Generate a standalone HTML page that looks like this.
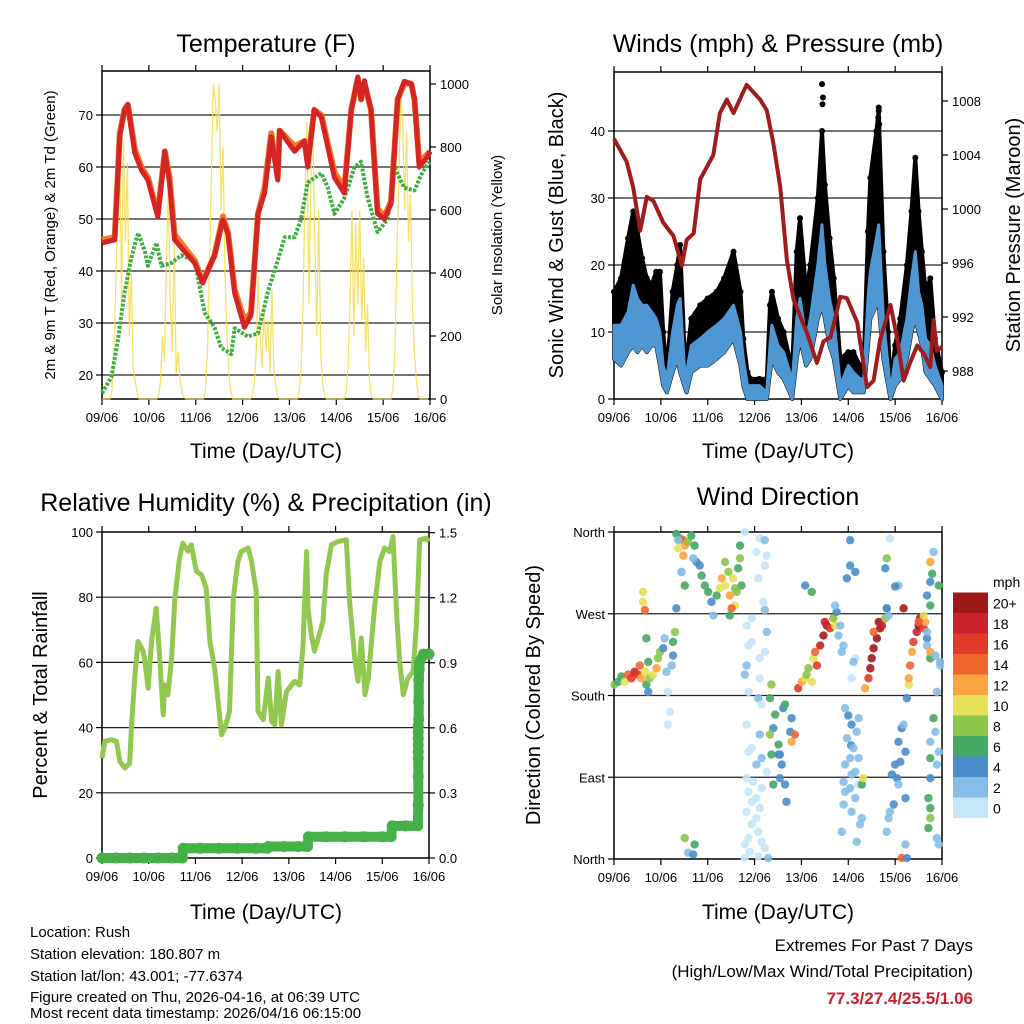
<!DOCTYPE html>
<html><head><meta charset="utf-8"><title>Station Meteogram</title>
<style>
html,body{margin:0;padding:0;background:#fff;}
svg{display:block;font-family:"Liberation Sans",sans-serif;}
</style></head>
<body>
<svg id="chart" width="1024" height="1024" viewBox="0 0 1024 1024" xmlns="http://www.w3.org/2000/svg">
<rect x="0" y="0" width="1024" height="1024" fill="#fff"/>
<text x="266" y="52" font-size="25" text-anchor="middle">Temperature (F)</text>
<text x="778" y="52" font-size="25" text-anchor="middle">Winds (mph) &amp; Pressure (mb)</text>
<text x="266" y="511" font-size="25" text-anchor="middle">Relative Humidity (%) &amp; Precipitation (in)</text>
<text x="778" y="505" font-size="25" text-anchor="middle">Wind Direction</text>
<text x="266" y="458" font-size="21" text-anchor="middle">Time (Day/UTC)</text>
<text x="778" y="458" font-size="21" text-anchor="middle">Time (Day/UTC)</text>
<text x="266" y="919" font-size="21" text-anchor="middle">Time (Day/UTC)</text>
<text x="778" y="919" font-size="21" text-anchor="middle">Time (Day/UTC)</text>
<text transform="translate(55,235) rotate(-90)" font-size="15" text-anchor="middle">2m &amp; 9m T (Red, Orange) &amp; 2m Td (Green)</text>
<text transform="translate(502,235) rotate(-90)" font-size="15" text-anchor="middle">Solar Insolation (Yellow)</text>
<text transform="translate(563,235) rotate(-90)" font-size="20" text-anchor="middle">Sonic Wind &amp; Gust (Blue, Black)</text>
<text transform="translate(1020,235) rotate(-90)" font-size="20" text-anchor="middle">Station Pressure (Maroon)</text>
<text transform="translate(47,695) rotate(-90)" font-size="20" text-anchor="middle">Percent &amp; Total Rainfall</text>
<text transform="translate(540,695) rotate(-90)" font-size="20" text-anchor="middle">Direction (Colored By Speed)</text>
<g font-size="15">
<text x="30" y="937">Location: Rush</text>
<text x="30" y="959">Station elevation: 180.807 m</text>
<text x="30" y="981">Station lat/lon: 43.001; -77.6374</text>
<text x="30" y="1002">Figure created on Thu, 2026-04-16, at 06:39 UTC</text>
<text x="30" y="1018" dy="0">Most recent data timestamp: 2026/04/16 06:15:00</text>
</g>
<text x="973" y="951" font-size="17" text-anchor="end">Extremes For Past 7 Days</text>
<text x="973" y="977" font-size="17" text-anchor="end">(High/Low/Max Wind/Total Precipitation)</text>
<text x="973" y="1004" font-size="17" font-weight="bold" fill="#c8202a" text-anchor="end">77.3/27.4/25.5/1.06</text>
<text x="993" y="587" font-size="14">mph</text>
</svg>
<script>
// ---------- data ----------
const dayLabels = ["09/06","10/06","11/06","12/06","13/06","14/06","15/06","16/06"];
const tempTicks = [20,30,40,50,60,70];
const solarTicks = [0,200,400,600,800,1000];
const windTicks = [0,10,20,30,40];
const pressTicks = [988,992,996,1000,1004,1008];
const rhTicks = [0,20,40,60,80,100];
const precipTicks = ["0.0","0.3","0.6","0.9","1.2","1.5"];
const dirTicks = ["North","East","South","West","North"];
const dirTickDeg = [0,90,180,270,360];
const speedBins = ["0","2","4","6","8","10","12","14","16","18","20+"];

const tempTime = [0,0.27,0.38,0.48,0.55,0.70,0.84,0.98,1.19,1.34,1.44,1.55,1.98,2.15,2.40,2.58,2.69,2.83,3.04,3.18,3.33,3.47,3.61,3.75,3.79,4.11,4.32,4.39,4.53,4.68,4.96,5.17,5.32,5.46,5.53,5.60,5.74,5.88,6.03,6.17,6.31,6.45,6.60,6.67,6.77,6.95,7.0];
const temp2m = [45.4,46,66,71,72,62.7,59.4,57.5,50.4,63,57,46,41.5,37.7,43,49.8,47,35.8,29.2,31.5,51,55,65.8,57.5,67,63,65,60,71,69.6,58,55,71,77.3,73,76.6,71,51,50,53,73,76.5,76,73,60,62,63];
const temp9m = [46,46.5,66.5,71,72,63.5,60,58,51,63,58,47,42,38,43,50.5,47.5,36.5,30.5,32,51,56,66.5,58,67,64,65,61,71,70,59,56,71,77,73,76,71,52,50.5,53.5,73,76,76,73,61,62.5,63];
const dewTime = [0,0.2,0.34,0.48,0.63,0.77,0.91,0.98,1.16,1.27,1.48,1.69,1.98,2.19,2.40,2.54,2.76,2.83,3.11,3.33,3.54,3.75,3.90,4.11,4.25,4.39,4.68,4.82,4.96,5.17,5.39,5.53,5.67,5.88,6.10,6.24,6.45,6.67,6.81,6.98];
const dewpt = [16.5,19.6,26.7,35.8,42.7,47.3,44,41,45.4,41,41.5,43,42,32,29.2,25.3,24,29,27.4,28,36,42,46.5,46.5,50,57,58.8,56,51,54,60,61,54,47.5,50,60,56,55.5,58.5,61];
const solarD0 = [0,0,0,0,0,20,120,350,600,880,300,820,500,750,200,400,100,60,20,0,0,0,0,0];
const solarD1 = [0,0,0,0,0,10,60,200,120,450,650,300,150,500,80,150,60,20,5,0,0,0,0,0];
const solarD2 = [0,0,0,0,0,30,150,400,700,1000,950,850,1000,600,800,400,200,80,20,0,0,0,0,0];
const solarD3 = [0,0,0,0,0,10,50,150,390,200,100,300,150,250,80,350,100,40,10,0,0,0,0,0];
const solarD4 = [0,0,0,0,0,20,100,300,650,880,300,700,880,500,200,600,150,50,10,0,0,0,0,0];
const solarD5 = [0,0,0,0,0,20,100,300,600,200,560,300,600,250,450,150,300,60,10,0,0,0,0,0];
const solarD6 = [0,0,0,0,0,30,150,450,700,960,880,600,850,500,650,300,150,60,10,0,0,0,0,0];

const windTime = [0,0.15,0.3,0.41,0.5,0.6,0.7,0.8,0.9,0.98,1.05,1.13,1.25,1.35,1.41,1.5,1.55,1.65,1.84,2.0,2.19,2.35,2.55,2.7,2.76,2.85,2.91,3.1,3.26,3.33,3.37,3.5,3.62,3.75,3.8,3.9,3.97,4.1,4.19,4.35,4.44,4.5,4.6,4.69,4.83,5.0,5.11,5.25,5.33,5.42,5.47,5.6,5.65,5.75,5.85,5.9,6.0,6.11,6.25,6.35,6.43,6.5,6.57,6.65,6.75,6.85,7.0];
const windLo = [6,5,7,8,7,8,7,8,8,5,2,1,4,6,4,2,1,4,5,5,6,7,9,5,2,0,0,0,0,4,6,4,3,1,0,6,9,5,6,12,14,12,8,6,0,2,1,1,1,8,12,14,14,6,2,0,2,3,6,10,12,10,8,4,3,2,0];
const windHi = [11,11,13,17,15,14,14,13,12,10,5,3,10,14,15,5,4,8,9,10,11,12,14,10,6,2,2,2,1,8,11,8,7,4,2,12,15,9,12,20,26,20,15,12,2,5,4,3,3,15,19,24,26,12,5,1,6,7,12,18,22,16,14,9,8,5,2];
const gust = [16,18,24,28,25,21,18,17,19,19,10,4,16,20,23,8,6,12,14,15,16,18,22,16,9,4,3,3,3,14,16,12,10,6,4,22,27,16,20,30,40,32,24,18,6,7,7,5,5,25,33,40,43,22,10,2,8,12,20,28,36,28,22,16,18,9,4];
const gustPeakTime = [4.44,4.45,4.46,5.64,5.65,5.66];
const gustPeakVal = [47,44,45,42,43.5,41];
const pressTime = [0,0.27,0.41,0.56,0.7,0.84,1.05,1.27,1.45,1.55,1.7,1.84,2.12,2.26,2.41,2.55,2.83,3.12,3.26,3.4,3.55,3.69,3.83,4.12,4.33,4.47,4.62,4.83,4.97,5.19,5.4,5.54,5.68,5.9,6.04,6.18,6.32,6.47,6.61,6.75,6.82,6.89,7.0];
const pressure = [1005.2,1003.5,1001.6,998.4,1000.9,1000.6,999,998,995.8,997.7,998.2,1002.2,1004,1007.1,1008.1,1007.1,1009.2,1008.1,1007.3,1004.9,1001.6,996.2,993.3,990.8,988.6,990.2,990.5,993.5,993.4,991.6,986.8,987.3,990.3,992.9,990.5,987.3,988.6,989.9,989.3,988.3,991.8,989.5,989.8];

const rhTime = [0,0.06,0.2,0.31,0.38,0.49,0.59,0.63,0.7,0.77,0.88,0.91,0.99,1.06,1.16,1.23,1.31,1.34,1.41,1.49,1.56,1.66,1.73,1.84,1.91,2.02,2.13,2.23,2.31,2.41,2.56,2.63,2.73,2.81,2.91,2.98,3.13,3.2,3.3,3.34,3.45,3.56,3.63,3.7,3.77,3.84,3.95,4.12,4.23,4.3,4.38,4.41,4.48,4.55,4.63,4.73,4.8,4.91,5.05,5.23,5.3,5.41,5.48,5.55,5.63,5.7,5.84,5.95,6.05,6.16,6.23,6.3,6.37,6.45,6.55,6.66,6.73,6.8,6.94,7.0];
const rh = [30.7,35.8,36.3,35.8,29.6,27.6,29,39.9,55.2,66.4,63.4,61.3,52.1,66.4,76.6,62.3,43.9,53.1,50.1,61.3,79.7,92,96.6,94.1,96.1,87.9,86.9,82.8,66.4,58.3,37.8,39.9,45,79.7,91,94,95.1,91,81.8,45,42.4,55.2,41.9,40.9,57.2,40.9,51.1,54.2,53.1,64.4,94,76.6,68.5,63.4,67.5,72.6,86.9,96.1,97.1,97.6,78.7,61.3,54.2,67.5,50.1,55.2,77.7,91,95.1,94,98.6,76.6,60.3,50.1,55.2,57.2,71.5,97.6,98.1,97.1];
const precipTime = [0,0.3,0.6,0.9,1.2,1.5,1.72,1.74,2.1,2.5,2.9,3.3,3.54,3.56,3.9,4.2,4.40,4.42,4.8,5.2,5.6,6.0,6.19,6.21,6.5,6.76,6.77,6.77,6.77,6.77,6.77,6.77,6.77,6.77,6.78,6.78,6.78,6.79,6.8,6.88,6.95,7.0];
const precip = [0,0,0,0,0,0,0,0.045,0.045,0.045,0.045,0.045,0.045,0.053,0.053,0.053,0.053,0.098,0.098,0.098,0.098,0.098,0.098,0.148,0.148,0.148,0.244,0.375,0.46,0.49,0.52,0.55,0.58,0.61,0.64,0.72,0.82,0.87,0.905,0.94,0.94,0.94];

const wdTime = [0.01,0.09,0.16,0.23,0.30,0.37,0.44,0.51,0.55,0.58,0.66,0.69,0.73,0.76,0.83,0.91,0.94,0.98,1.05,1.08,1.12,1.15,1.19,1.15,1.23,1.26,1.30,1.26,0.62,0.62,0.66,0.69,0.73,
1.33,1.40,1.48,1.51,1.48,1.58,1.65,1.72,1.76,1.69,1.83,1.44,1.51,1.44,1.33,
1.87,1.94,2.01,2.08,2.12,2.19,2.26,2.30,2.37,2.44,2.47,2.54,2.58,2.62,2.65,2.69,2.72,2.37,2.51,2.58,2.69,2.47,
2.79,3.11,3.22,3.04,3.26,3.22,3.08,3.19,3.22,2.94,2.83,3.26,2.94,2.87,3.22,3.11,2.83,2.79,3.11,2.87,3.08,3.15,2.83,3.11,2.94,2.87,3.15,3.04,3.26,2.83,2.97,3.15,2.87,3.04,2.94,3.11,2.83,3.04,2.94,3.08,2.87,3.15,2.79,3.22,2.90,3.08,3.29,2.79,
3.36,3.40,3.36,3.33,3.44,3.40,3.33,3.51,3.54,3.51,3.58,3.54,3.65,3.68,3.76,3.79,3.61,3.65,
3.79,3.86,3.93,4.01,4.08,4.11,4.15,4.22,4.26,4.29,4.33,4.40,4.47,4.54,4.50,4.61,4.68,4.72,4.68,4.75,4.72,4.22,4.08,4.83,4.86,4.79,4.90,5.15,5.07,5.04,4.97,5.06,
5.00,5.11,5.22,4.93,5.07,5.18,4.97,5.11,5.22,4.93,5.04,5.15,4.90,5.07,5.22,4.93,5.04,5.15,4.90,5.07,5.29,5.25,4.86,5.18,
5.29,5.32,5.36,5.43,5.47,5.50,5.54,5.61,5.68,5.65,5.72,5.54,5.79,5.82,5.86,5.82,5.82,5.79,5.04,5.15,5.89,
6.07,6.00,6.14,6.07,6.22,6.00,6.11,6.04,5.93,6.07,6.22,5.97,5.89,5.86,5.82,6.22,6.14,6.25,6.18,
6.25,6.29,6.29,6.32,6.36,6.39,6.46,6.50,6.53,6.61,6.64,6.61,6.50,6.18,6.68,6.68,6.68,6.75,6.75,6.68,6.75,6.75,6.79,
6.82,6.86,6.89,6.82,6.86,6.75,6.93,6.89,6.75,6.75,6.71,6.75,6.75,6.71,6.89,6.93,6.96,6.96,6.75,6.93,
1.37,1.37,1.51,1.58,1.69,1.72];
const wdDir = [192,195,201,195,203,199,206,203,213,199,206,192,184,199,203,210,221,228,232,243,206,184,162,148,213,239,250,224,294,283,274,243,217,
358,353,351,345,334,349,356,345,327,331,323,316,301,316,276,
312,301,294,283,268,290,298,309,301,316,290,309,279,294,320,331,301,327,276,298,345,268,
360,353,351,338,334,323,309,283,274,265,257,250,239,235,228,221,213,203,199,184,177,170,148,137,122,118,111,104,96,89,85,78,74,67,63,56,52,45,38,30,23,19,16,12,8,3,1,1,115,82,
192,177,159,144,137,126,115,115,104,89,82,63,140,155,166,170,129,137,
188,195,199,203,210,195,221,228,213,235,246,257,261,254,265,257,265,272,279,294,301,257,228,246,235,221,199,323,309,125,158,217,
155,166,148,140,133,122,111,104,111,96,85,93,82,74,78,67,60,52,45,38,30,19,82,89,
188,199,210,221,232,243,254,261,257,250,265,276,268,276,331,320,351,316,353,301,300,
144,129,118,104,107,89,93,82,67,60,52,45,30,16,1,1,148,177,192,
199,213,228,239,250,257,265,254,261,268,261,276,290,243,235,221,305,250,228,327,314,338,224,
184,155,140,129,118,104,111,89,67,56,45,34,23,16,217,213,279,301,351,342,
23,7,5,16,3,2];
const wdSpeed = [8,7,6,10,14,16,18,16,14,12,10,6,5,8,10,12,8,8,4,3,2,1,1,1,3,6,8,4,10,10,15,7,6,
7,6,14,12,13,8,6,7,4,3,4,3,7,2,5,
6,7,6,5,3,7,10,12,10,8,13,10,10,8,6,8,7,9,14,9,7,6,
1,1,2,1,1,0,1,1,2,1,1,2,0,1,1,1,2,2,0,1,2,1,1,2,1,1,2,3,0,1,1,1,1,0,1,1,1,1,1,0,1,1,1,0,1,1,2,0,
6,7,8,7,6,5,8,6,4,4,4,4,5,4,4,5,4,6,
13,14,16,12,10,9,8,11,10,14,16,18,20,20,19,16,12,10,8,4,3,6,4,2,2,3,2,1,1,4,5,4,
4,3,3,2,4,3,2,3,2,2,2,3,2,2,1,2,2,3,3,2,3,3,2,3,
6,10,12,16,20,20,22,22,20,20,18,14,8,4,3,4,8,4,4,4,1,
3,5,4,4,4,4,4,4,5,3,4,4,3,3,3,3,14,4,3,
4,10,12,14,12,16,18,20,20,16,12,10,14,22,4,4,3,6,5,3,12,12,6,
3,3,3,6,3,2,2,3,6,4,7,6,8,6,2,2,2,3,6,6,
3,10,8,3,5,6];

// ---------- helpers ----------
const NS = "http://www.w3.org/2000/svg";
const svg = document.getElementById('chart');
function mk(tag, attrs, parent) {
  const e = document.createElementNS(NS, tag);
  for (const k in attrs) e.setAttribute(k, attrs[k]);
  (parent || svg).appendChild(e);
  return e;
}
function panel(x0, x1, y0, y1) {
  return { x0, x1, y0, y1, tx: t => x0 + t * (x1 - x0) / 7 };
}
const P1 = panel(102, 430, 71, 399);
const P2 = panel(614, 942, 72, 399);
const P3 = panel(102, 429, 532, 858);
const P4 = panel(614, 942, 532, 859);
const yTemp = v => 375 - (v - 20) * 5.2;
const ySolar = v => 399 - v * 0.315;
const yWind = v => 399 - v * 6.7;
const yPress = v => 371 - (v - 988) * 13.5;
const yRH = v => 858 - v * 3.26;
const yPrecip = v => 858 - v / 0.00461;
const yDir = d => 859 - d * 327 / 360;
const binColors = ["#c4e6f8","#86bde6","#4a8dc8","#47a764","#8cc74a","#e6df58","#f9a443","#f0652e","#e03b2a","#c8232b","#9e1a1a"];
function speedColor(s) { return binColors[Math.min(10, Math.max(0, Math.floor(s / 2)))]; }
function pts(times, vals, P, fy) { return times.map((t, i) => P.tx(t).toFixed(1) + "," + fy(vals[i]).toFixed(1)).join(" "); }

function frame(P, name, gridVals, gridY) {
  const g = mk('g', {});
  
  
  gridVals.forEach(v => {
    const l = mk('line', { x1: P.x0, x2: P.x1, y1: gridY(v), y2: gridY(v), stroke: '#222', 'stroke-width': 1.2 }, g);
    
    
  });
  const r = mk('rect', { x: P.x0, y: P.y0, width: P.x1 - P.x0, height: P.y1 - P.y0, fill: 'none', stroke: '#000', 'stroke-width': 1.5 }, g);
  
  
  dayLabels.forEach((d, i) => {
    const x = P.tx(i);
    const tk = mk('line', { x1: x, x2: x, y1: P.y1, y2: P.y1 + 6, stroke: '#000', 'stroke-width': 1.2 }, g);
    
    
    const tt = mk('line', { x1: x, x2: x, y1: P.y0, y2: P.y0 - 6, stroke: '#000', 'stroke-width': 1.2 }, g);
    
    
    const tl = mk('text', { x: x, y: P.y1 + 23, 'font-size': 13, 'text-anchor': 'middle' }, g);
    tl.textContent = d;
    
    
  });
  return g;
}
function yTicks(P, name, vals, labels, fy, side) {
  vals.forEach((v, i) => {
    const y = fy(v);
    const xe = side === 'left' ? P.x0 : P.x1;
    const dx = side === 'left' ? -6 : 6;
    const tk = mk('line', { x1: xe, x2: xe + dx, y1: y, y2: y, stroke: '#000', 'stroke-width': 1.2 });
    
    
    const tl = mk('text', { x: side === 'left' ? xe - 9 : xe + 10, y: y + 5, 'font-size': 13, 'text-anchor': side === 'left' ? 'end' : 'start' });
    tl.textContent = labels[i];
    
    
  });
}

// ---------- Panel 1: temperature ----------
frame(P1, 'temperature', tempTicks, yTemp);
yTicks(P1, 'temperature-y', tempTicks, tempTicks, yTemp, 'left');
yTicks(P1, 'solar-y', solarTicks, solarTicks, ySolar, 'right');
const solarAll = [].concat(solarD0, solarD1, solarD2, solarD3, solarD4, solarD5, solarD6);
const solarTimes = solarAll.map((v, i) => i / 24);
const solarLine = mk('polyline', { points: pts(solarTimes, solarAll, P1, ySolar), fill: 'none', stroke: '#f7dc4f', 'stroke-width': 1.3, 'stroke-opacity': 0.85 });


const dewLine = mk('polyline', { points: pts(dewTime, dewpt, P1, yTemp), fill: 'none', stroke: '#3fae45', 'stroke-width': 4, 'stroke-dasharray': '3 1.5', 'stroke-linejoin': 'round' });


const t9Line = mk('polyline', { points: pts(tempTime, temp9m, P1, yTemp), fill: 'none', stroke: '#f07a2a', 'stroke-width': 6, 'stroke-linejoin': 'round' });


const t2Line = mk('polyline', { points: pts(tempTime, temp2m, P1, yTemp), fill: 'none', stroke: '#d42424', 'stroke-width': 5, 'stroke-linejoin': 'round' });



// ---------- Panel 2: winds & pressure ----------
frame(P2, 'winds', [10, 20, 30, 40], yWind);
yTicks(P2, 'wind-y', windTicks, windTicks, yWind, 'left');
yTicks(P2, 'pressure-y', pressTicks, pressTicks, yPress, 'right');
const gustTop = windTime.map((t, i) => P2.tx(t).toFixed(1) + ',' + yWind(gust[i]).toFixed(1));
const windBot = windTime.map((t, i) => P2.tx(t).toFixed(1) + ',' + yWind(windLo[i]).toFixed(1)).reverse();
const gustBand = mk('polygon', { points: gustTop.concat(windBot).join(' '), fill: '#000', stroke: '#000', 'stroke-width': 4, 'stroke-linejoin': 'round' });


windTime.forEach((t, i) => {
  const c = mk('circle', { cx: P2.tx(t), cy: yWind(gust[i]), r: 3, fill: '#000' });
  
  
});
gustPeakTime.forEach((t, i) => {
  const c = mk('circle', { cx: P2.tx(t), cy: yWind(gustPeakVal[i]), r: 3, fill: '#000' });
  
  
});
const windTopPts = windTime.map((t, i) => P2.tx(t).toFixed(1) + ',' + yWind(windHi[i]).toFixed(1));
const windBand = mk('polygon', { points: windTopPts.concat(windBot).join(' '), fill: '#4f97d3', stroke: '#4f97d3', 'stroke-width': 3, 'stroke-linejoin': 'round' });


const pressLine = mk('polyline', { points: pts(pressTime, pressure, P2, yPress), fill: 'none', stroke: '#a01c1c', 'stroke-width': 4, 'stroke-linejoin': 'round' });



// ---------- Panel 3: RH & precipitation ----------
frame(P3, 'humidity', [20, 40, 60, 80], yRH);
yTicks(P3, 'rh-y', rhTicks, rhTicks, yRH, 'left');
yTicks(P3, 'precip-y', precipTicks.map(Number), precipTicks, yPrecip, 'right');
const rhLine = mk('polyline', { points: pts(rhTime, rh, P3, yRH), fill: 'none', stroke: '#92c84f', 'stroke-width': 5, 'stroke-linejoin': 'round' });


const prLine = mk('polyline', { points: pts(precipTime, precip, P3, yPrecip), fill: 'none', stroke: '#44b046', 'stroke-width': 10, 'stroke-linejoin': 'round', 'stroke-linecap': 'round' });


precipTime.forEach((t, i) => {
  const c = mk('circle', { cx: P3.tx(t), cy: yPrecip(precip[i]), r: 5.5, fill: '#44b046' });
  
  
});

// ---------- Panel 4: wind direction ----------
frame(P4, 'direction', [90, 180, 270], yDir);
yTicks(P4, 'direction-y', dirTickDeg, dirTicks, yDir, 'left');
wdTime.forEach((t, i) => {
  const c = mk('circle', { cx: P4.tx(t), cy: yDir(wdDir[i]), r: 4.2, fill: speedColor(wdSpeed[i]), 'fill-opacity': 0.9 });
  
  
});
// colorbar
speedBins.forEach((lab, i) => {
  const y = 818 - (i + 1) * 20.5;
  const r = mk('rect', { x: 953, y: y, width: 35, height: 20.5, fill: binColors[i] });
  
  
  const tl = mk('text', { x: 993, y: y + 16, 'font-size': 14 });
  tl.textContent = lab;
  
  
});
</script>
</body></html>
